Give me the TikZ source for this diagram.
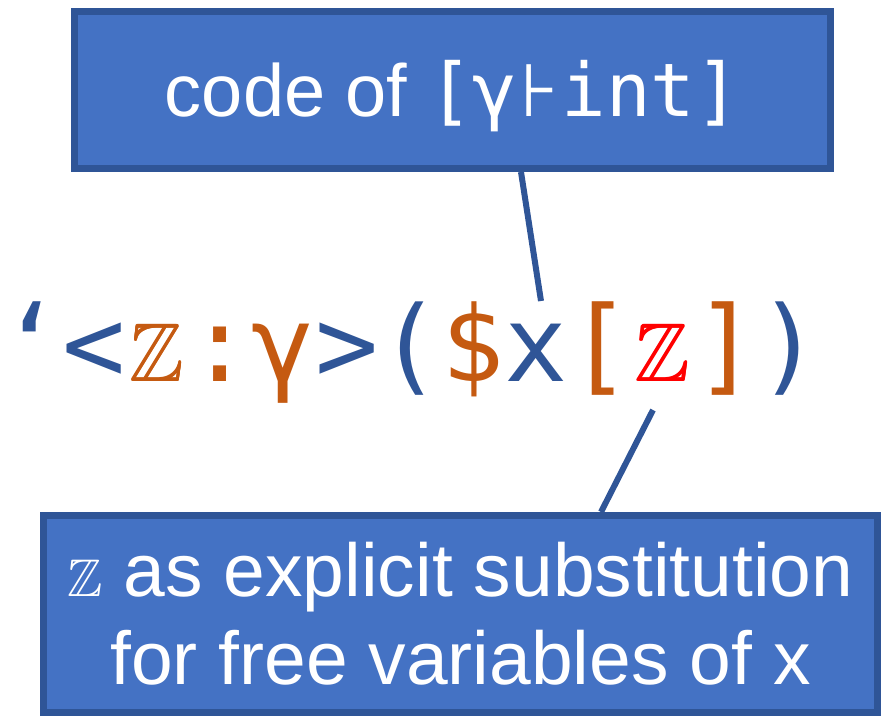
\documentclass[tikz,border=0pt]{standalone}
\usepackage{amsmath,amssymb}
\usepackage{fontspec}
\setmainfont{Liberation Sans}
\newfontfamily\codefont{DejaVu Sans Mono}
\newfontfamily\symfont{DejaVu Sans}
\definecolor{darkblue}{HTML}{2F5597}
\definecolor{boxblue}{HTML}{4472C4}
\definecolor{codeorange}{HTML}{C55A11}
\newcommand{\dblz}[1]{{\fontsize{#1}{#1}\selectfont$\mathbb{Z}$}}
\newcommand{\zcell}{\makebox[0.602em]{\fontsize{82}{82}\selectfont\pmb{$\mathbb{Z}$}}}
\tikzset{
  callout/.style={draw=darkblue, line width=7pt, fill=boxblue, text=white, inner sep=0pt},
  link/.style={draw=darkblue, line width=6pt}
}

\begin{document}
\begin{tikzpicture}[x=1pt, y=-1pt]
    \useasboundingbox (0,0) rectangle (881,716);

    % Boxes
    \node[callout, minimum width=756pt, minimum height=157pt,
          text height=60pt, text depth=8pt] (typebox) at (452.5,90)
        {\fontsize{74}{74}\selectfont code of {\codefont\fontsize{74}{74}\selectfont[γ\makebox[0.602em]{\symfont ⊦}int]}};
    \node[callout, minimum width=834pt, minimum height=197pt, align=center,
          font=\fontsize{75}{88}\selectfont] (substbox) at (460.5,614)
        {\dblz{53} as explicit substitution\\for free variables of x};

    % Quoted term
    \node[anchor=base, inner sep=0pt] (term) at (418,381)
        {\codefont\fontsize{105}{105}\selectfont
         \textcolor{darkblue}{\makebox[0.45em][r]{‘}<}\textcolor{codeorange}{\zcell:γ}\textcolor{darkblue}{>(}\textcolor{codeorange}{\$}\textcolor{darkblue}{x}\textcolor{codeorange}{[}\textcolor{red}{\zcell}\textcolor{codeorange}{]}\textcolor{darkblue}{)}};

    % Connectors
    \coordinate (gammaend) at (541,301);
    \coordinate (zend) at (653,410);
    \draw[link] ([xshift=68.5pt]typebox.south) -- (gammaend);
    \draw[link] (zend) -- ([xshift=140.5pt]substbox.north);
\end{tikzpicture}
\end{document}
